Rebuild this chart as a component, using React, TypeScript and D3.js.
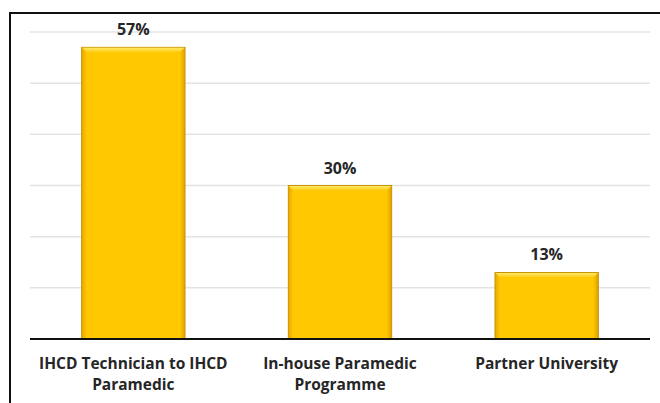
import React from "react";
import * as d3 from "d3";

const categories: string[][] = [
  ["IHCD Technician to IHCD", "Paramedic"],
  ["In-house Paramedic", "Programme"],
  ["Partner University"],
];
const values: number[] = [57, 30, 13];
const yTicks: number[] = [0, 10, 20, 30, 40, 50, 60];

const W = 660;
const H = 403;
const plot = { left: 30, right: 650, top: 32, bottom: 339 };

export default function App() {
  const x = d3
    .scaleBand<number>()
    .domain(values.map((_, i) => i))
    .range([plot.left, plot.right])
    .paddingInner(0.5)
    .paddingOuter(0.25);
  const y = d3.scaleLinear().domain([0, 60]).range([plot.bottom, plot.top]);
  const font = "'Open Sans', 'Liberation Sans', sans-serif";
  return (
    <svg
      width={W}
      height={H}
      style={{ position: "absolute", left: 0, top: 0, background: "#fff" }}
    >
      <defs>
        <linearGradient id="hgrad" x1="0" x2="1" y1="0" y2="0">
          <stop offset="0" stopColor="#E8A800" />
          <stop offset="0.05" stopColor="#FFC800" />
          <stop offset="0.95" stopColor="#FFC800" />
          <stop offset="1" stopColor="#E0A000" />
        </linearGradient>
        <linearGradient id="tgrad" x1="0" x2="0" y1="0" y2="1">
          <stop offset="0" stopColor="#FFE866" />
          <stop offset="1" stopColor="#FFCC10" />
        </linearGradient>
      </defs>
      <rect x={0} y={0} width={W} height={H} fill="#fff" />
      {/* frame */}
      <line x1={10} x2={10} y1={12} y2={H} stroke="#111" strokeWidth={2} />
      <line x1={10} x2={W} y1={13} y2={13} stroke="#111" strokeWidth={2} />
      {/* gridlines */}
      {yTicks.slice(1).map((t) => (
        <line
          key={t}
          x1={plot.left}
          x2={plot.right}
          y1={y(t)}
          y2={y(t)}
          stroke="#e3e3e3"
          strokeWidth={1.5}
        />
      ))}
      {/* bars */}
      {values.map((v, i) => {
        const bx = x(i)!;
        const bw = x.bandwidth();
        const by = y(v);
        const bh = y(0) - y(v);
        return (
          <g key={i}>
            <rect x={bx} y={by} width={bw} height={bh} fill="url(#hgrad)" stroke="#C99400" strokeWidth={1} />
            <path
              d={`M${bx + 0.5},${by + 0.5} L${bx + bw - 0.5},${by + 0.5} L${bx + bw - 5},${by + 5} L${bx + 5},${by + 5} Z`}
              fill="url(#tgrad)"
            />
            <text
              x={bx + bw / 2}
              y={by - 12}
              textAnchor="middle"
              fontFamily={font}
              fontWeight={700}
              fontSize={16}
              fill="#262626"
            >
              {v}%
            </text>
          </g>
        );
      })}
      {/* axis */}
      <line x1={plot.left} x2={plot.right} y1={plot.bottom} y2={plot.bottom} stroke="#111" strokeWidth={2} />
      {categories.map((lines, i) => (
        <text
          key={i}
          x={x(i)! + x.bandwidth() / 2}
          textAnchor="middle"
          fontFamily={font}
          fontWeight={700}
          fontSize={15.5}
          fill="#262626"
        >
          {lines.map((l, j) => (
            <tspan key={j} x={x(i)! + x.bandwidth() / 2} y={369 + j * 21}>
              {l}
            </tspan>
          ))}
        </text>
      ))}
    </svg>
  );
}
